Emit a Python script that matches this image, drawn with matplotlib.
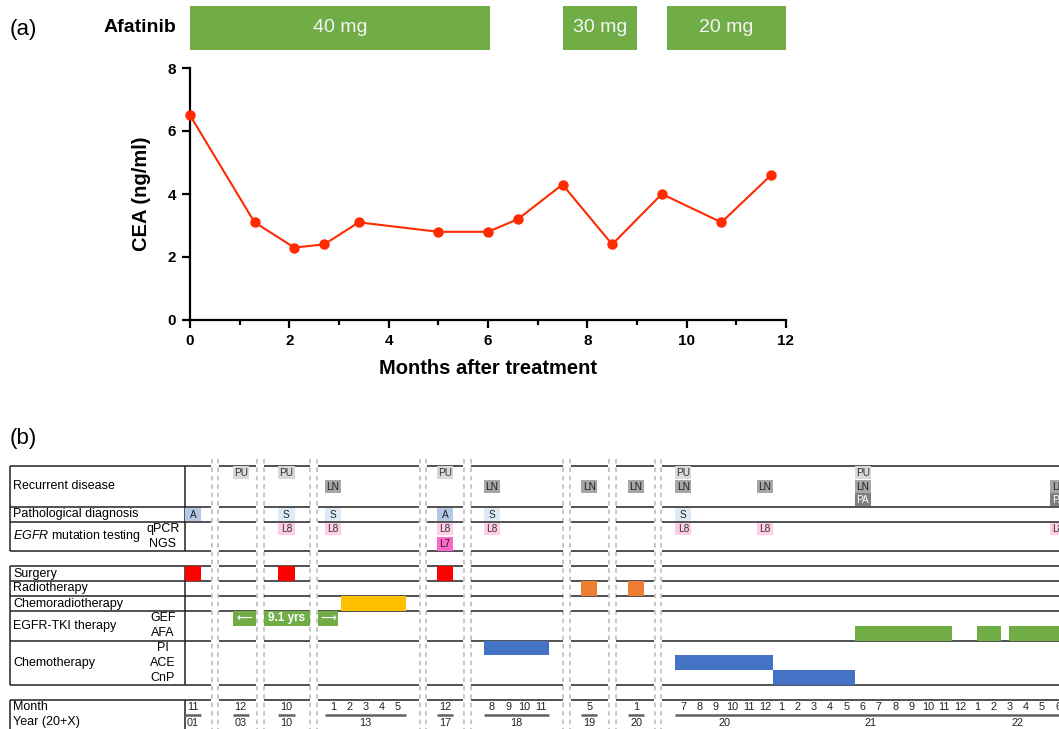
import matplotlib
matplotlib.use("Agg")
import matplotlib.pyplot as plt
from matplotlib.patches import Rectangle
from matplotlib.ticker import MultipleLocator

plt.rcParams['font.family'] = ['Liberation Sans', 'DejaVu Sans']
plt.rcParams['mathtext.fontset'] = 'custom'
plt.rcParams['mathtext.rm'] = 'Liberation Sans'
plt.rcParams['mathtext.it'] = 'Liberation Sans:italic'

# ---- panel (a) data ----
months_after = [0, 1.3, 2.1, 2.7, 3.4, 5.0, 6.0, 6.6, 7.5, 8.5, 9.5, 10.7, 11.7]
cea = [6.5, 3.1, 2.3, 2.4, 3.1, 2.8, 2.8, 3.2, 4.3, 2.4, 4.0, 3.1, 4.6]
dose_start = [0, 7.5, 9.6]
dose_end = [6.05, 9.0, 12.0]
dose_labels = ['40 mg', '30 mg', '20 mg']

# ---- panel (b) data ----
# timeline segments: first (year, month) and number of months shown
seg_first = [(2001, 11), (2003, 12), (2010, 10), (2013, 1), (2017, 12),
             (2018, 8), (2019, 5), (2020, 1), (2020, 7)]
seg_len = [1, 1, 1, 5, 1, 4, 1, 1, 24]

recurrent = [((2003, 12), 'PU'), ((2010, 10), 'PU'), ((2013, 1), 'LN'),
             ((2017, 12), 'PU'), ((2018, 8), 'LN'), ((2019, 5), 'LN'),
             ((2020, 1), 'LN'), ((2020, 7), 'PU'), ((2020, 7), 'LN'),
             ((2020, 12), 'LN'), ((2021, 6), 'PU'), ((2021, 6), 'LN'),
             ((2021, 6), 'PA'), ((2022, 6), 'LN'), ((2022, 6), 'PA')]
recurrent_sub = {'PU': 0, 'LN': 1, 'PA': 2}
pathology = [((2001, 11), 'A'), ((2010, 10), 'S'), ((2013, 1), 'S'),
             ((2017, 12), 'A'), ((2018, 8), 'S'), ((2020, 7), 'S')]
qpcr = [(2010, 10), (2013, 1), (2017, 12), (2018, 8), (2020, 7), (2020, 12), (2022, 6)]
ngs = [(2017, 12)]
surgery = [(2001, 11), (2010, 10), (2017, 12)]
radiotherapy = [(2019, 5), (2020, 1)]
# bars: start (year, month) = start of month, end (year, month) = end of month
chemorad = [((2013, 2), (2013, 5))]
gef = [((2003, 12), (2013, 0.84))]
gef_texts = ['\u27f5', '9.1 yrs', '\u27f6']
afa = [((2021, 6), (2021, 11)), ((2022, 1.5), (2022, 2)), ((2022, 3.5), (2022, 9))]
chemo_pi = [((2018, 8), (2018, 11))]
chemo_ace = [((2020, 7), (2020, 12))]
chemo_cnp = [((2021, 1), (2021, 5))]

# ---- layout (pixels) for panel (b) ----
SLOT = 16.3
GAP = 8
pad_left = [0, 13.5, 14, 7, 10, 12.5, 10.5, 11.5, 13]
pad_right = [9.7, 7.5, 15, 13, 10, 13.5, 11, 10, 10]
row_layout = [('recurrent', 465.7, 506.7, 3), ('patho', 506.7, 521.7, 1),
              ('egfr', 521.7, 551, 2), ('surgery', 566, 581, 1),
              ('radio', 581, 596, 1), ('chemorad', 596, 611, 1),
              ('tki', 611, 640.7, 2), ('chemo', 640.7, 685, 3)]
rows = {r[0]: r[1:] for r in row_layout}
month_top = 700

GREEN = '#70ad47'
label_colors = {'PU': ('#d9d9d9', '#333333'), 'LN': ('#a6a6a6', '#222222'),
                'PA': ('#7f7f7f', 'white'), 'A': ('#b4c7e7', '#222222'),
                'S': ('#deebf7', '#222222'), 'L8': ('#ffcce6', '#333333'),
                'L7': ('#ff66cc', '#222222')}

fig = plt.figure(figsize=(10.59, 7.29), dpi=100)

# ---------------- panel (b) ----------------
axb = fig.add_axes([0, 0, 1, 1])
axb.set_xlim(0, 1059)
axb.set_ylim(729, 0)
axb.axis('off')

seg_x0, seg_x1, slot0 = [], [], []
x = 185
for k in range(len(seg_len)):
    seg_x0.append(x)
    slot0.append(x + pad_left[k])
    x += pad_left[k] + seg_len[k] * SLOT + pad_right[k]
    seg_x1.append(x)
    x += GAP

first_mn = [y * 12 + m - 1 for y, m in seg_first]
ext = [(first_mn[k] - pad_left[k] / SLOT, first_mn[k] + seg_len[k] + pad_right[k] / SLOT)
       for k in range(len(seg_len))]


def mn_start(d):
    return d[0] * 12 + d[1] - 1


def mn_end(d):
    return d[0] * 12 + d[1]


def xpos(p):
    for k, (e0, e1) in enumerate(ext):
        if e0 - 1e-6 <= p <= e1 + 1e-6:
            return slot0[k] + (p - first_mn[k]) * SLOT
    k = len(ext) - 1
    return slot0[k] + (p - first_mn[k]) * SLOT


def sub_bounds(row, i):
    top, bot, n = rows[row]
    h = (bot - top) / n
    return top + i * h, h


def draw_bar(row, i, a, b, color, texts=None, tcolor='white'):
    top, h = sub_bounds(row, i)
    pieces = []
    for k, (e0, e1) in enumerate(ext):
        lo, hi = max(a, e0), min(b, e1)
        if hi > lo:
            pieces.append((xpos(lo) if lo > e0 else seg_x0[k],
                           xpos(hi) if hi < e1 else seg_x1[k]))
    for j, (x0, x1) in enumerate(pieces):
        axb.add_patch(Rectangle((x0, top), x1 - x0, h, facecolor=color,
                                edgecolor='none', zorder=3))
        if texts:
            arrow = texts[j] in ('\u27f5', '\u27f6')
            axb.text((x0 + x1) / 2, top + h / 2, texts[j], ha='center', va='center',
                     color=tcolor, fontsize=8 if arrow else 8.5, fontweight='bold',
                     zorder=4, family=['DejaVu Sans'] if arrow else ['Liberation Sans'])


def draw_tag(row, i, d, label, inset=0.7):
    top, h = sub_bounds(row, i)
    fc, tc = label_colors[label]
    x0 = xpos(mn_start(d))
    axb.add_patch(Rectangle((x0, top + inset), SLOT, h - 2 * inset, facecolor=fc,
                            edgecolor='none', zorder=3))
    axb.text(x0 + SLOT / 2, top + h / 2 + 0.3, label, ha='center', va='center',
             fontsize=7.3, color=tc, zorder=4)


for d, lab in recurrent:
    draw_tag('recurrent', recurrent_sub[lab], d, lab, inset=0.3)
for d, lab in pathology:
    draw_tag('patho', 0, d, lab, inset=1.2)
for d in qpcr:
    draw_tag('egfr', 0, d, 'L8', inset=1.0)
for d in ngs:
    draw_tag('egfr', 1, d, 'L7', inset=0.3)
for d in surgery:
    draw_bar('surgery', 0, mn_start(d), mn_end(d), '#ff0000')
for d in radiotherapy:
    draw_bar('radio', 0, mn_start(d), mn_end(d), '#ed7d31')
for a, b in chemorad:
    draw_bar('chemorad', 0, mn_start(a), mn_end(b), '#ffc000')
for a, b in gef:
    draw_bar('tki', 0, mn_start(a), mn_end(b), GREEN, texts=gef_texts)
for a, b in afa:
    draw_bar('tki', 1, mn_start(a), mn_end(b), GREEN)
for a, b in chemo_pi:
    draw_bar('chemo', 0, mn_start(a), mn_end(b), '#4472c4')
for a, b in chemo_ace:
    draw_bar('chemo', 1, mn_start(a), mn_end(b), '#4472c4')
for a, b in chemo_cnp:
    draw_bar('chemo', 2, mn_start(a), mn_end(b), '#4472c4')

# grid lines
line_ys = sorted(set([r[1] for r in row_layout] + [r[2] for r in row_layout] + [month_top]))
LINE_C = '#222222'
axb.hlines(line_ys, 10, seg_x1[0], color=LINE_C, lw=1.1, zorder=2)
for k in range(1, len(seg_len)):
    axb.hlines(line_ys, seg_x0[k], seg_x1[k], color=LINE_C, lw=1.1, zorder=2)
for x_edge in [10, 185]:
    for y0, y1 in [(465.7, 551), (566, 685), (month_top, 729)]:
        axb.vlines(x_edge, y0, y1, color=LINE_C, lw=1.1, zorder=2)
dash_x = [seg_x1[k] + 0.8 for k in range(len(seg_len) - 1)] + \
         [seg_x0[k] - 0.8 for k in range(1, len(seg_len))]
axb.vlines(dash_x, 459, 729, color='#b8b8b8', lw=1.1, linestyles=(0, (3, 2.5)), zorder=1)

# month / year axis
for k in range(len(seg_len)):
    y0, m0 = seg_first[k]
    years = {}
    for i in range(seg_len[k]):
        mm = (m0 - 1 + i) % 12 + 1
        yy = y0 + (m0 - 1 + i) // 12
        cx = slot0[k] + (i + 0.5) * SLOT
        axb.text(cx, 707.5, str(mm), ha='center', va='center', fontsize=7.8, color='#222222')
        years.setdefault(yy, []).append(cx)
    axb.hlines(715, slot0[k], slot0[k] + seg_len[k] * SLOT, color='#606060', lw=1.8, zorder=2)
    for yy, cxs in years.items():
        axb.text((cxs[0] + cxs[-1]) / 2, 723.5, '%02d' % (yy % 100), ha='center', va='center',
                 fontsize=7.8, color='#222222')

# row labels
LX, SX = 13, 163
fs = 9
axb.text(LX, 486, 'Recurrent disease', va='center', fontsize=fs)
axb.text(LX, 514.2, 'Pathological diagnosis', va='center', fontsize=fs)
axb.text(LX, 536.4, r'$\mathit{EGFR}$ mutation testing', va='center', fontsize=fs)
axb.text(SX, 529, 'qPCR', ha='center', va='center', fontsize=fs)
axb.text(SX, 543.7, 'NGS', ha='center', va='center', fontsize=fs)
axb.text(LX, 573.5, 'Surgery', va='center', fontsize=fs)
axb.text(LX, 588.5, 'Radiotherapy', va='center', fontsize=fs)
axb.text(LX, 603.5, 'Chemoradiotherapy', va='center', fontsize=fs)
axb.text(LX, 626, 'EGFR-TKI therapy', va='center', fontsize=fs)
axb.text(SX, 618.4, 'GEF', ha='center', va='center', fontsize=fs)
axb.text(SX, 633.2, 'AFA', ha='center', va='center', fontsize=fs)
axb.text(LX, 662.8, 'Chemotherapy', va='center', fontsize=fs)
axb.text(SX, 648.1, 'PI', ha='center', va='center', fontsize=fs)
axb.text(SX, 662.8, 'ACE', ha='center', va='center', fontsize=fs)
axb.text(SX, 677.6, 'CnP', ha='center', va='center', fontsize=fs)
axb.text(LX, 707.5, 'Month', va='center', fontsize=fs)
axb.text(LX, 722.5, 'Year (20+X)', va='center', fontsize=fs)
axb.text(10, 438, '(b)', va='center', fontsize=16)

# ---------------- panel (a) ----------------
W, H = 1059.0, 729.0
ax = fig.add_axes([190 / W, 1 - 320 / H, 596 / W, 252 / H])
ax.patch.set_alpha(0)
ax.plot(months_after, cea, color='#ff2a00', lw=1.5, marker='o', markersize=6.5,
        clip_on=False, zorder=3)
ax.set_xlim(0, 12)
ax.set_ylim(0, 8)
ax.xaxis.set_major_locator(MultipleLocator(2))
ax.xaxis.set_minor_locator(MultipleLocator(1))
ax.yaxis.set_major_locator(MultipleLocator(2))
for s in ['top', 'right']:
    ax.spines[s].set_visible(False)
for s in ['left', 'bottom']:
    ax.spines[s].set_linewidth(1.6)
ax.tick_params(which='major', direction='out', length=6, width=1.6, labelsize=11, pad=4)
ax.tick_params(which='minor', direction='out', length=3.5, width=1.6)
for lab in ax.get_xticklabels() + ax.get_yticklabels():
    lab.set_fontweight('bold')
ax.set_xlabel('Months after treatment', fontsize=14.5, fontweight='bold', labelpad=8)
ax.set_ylabel('CEA (ng/ml)', fontsize=14.5, fontweight='bold', labelpad=12)

axd = fig.add_axes([190 / W, 1 - 50 / H, 596 / W, 44 / H])
axd.set_xlim(0, 12)
axd.set_ylim(-0.5, 0.5)
axd.axis('off')
widths = [e - s for s, e in zip(dose_start, dose_end)]
axd.barh(0, widths, left=dose_start, height=1, color=GREEN)
for s, e, lab in zip(dose_start, dose_end, dose_labels):
    axd.text((s + e) / 2, 0, lab, ha='center', va='center', color='#f4f4f4', fontsize=14)

fig.text(176 / W, 1 - 28 / H, 'Afatinib', ha='right', va='center', fontsize=14, fontweight='bold')
fig.text(10 / W, 1 - 29 / H, '(a)', ha='left', va='center', fontsize=16)

fig.savefig('out.png', dpi=100)
